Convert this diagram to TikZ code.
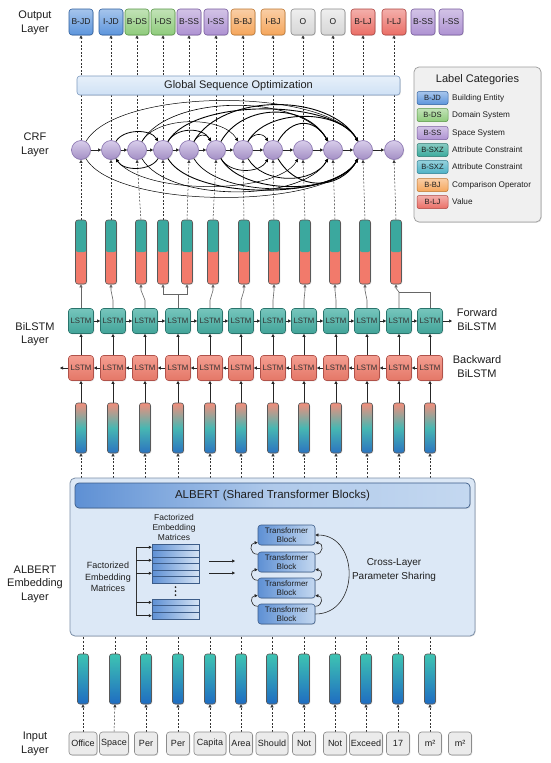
\documentclass[tikz,border=0pt]{standalone}
\usepackage{fontspec}
\setmainfont{Liberation Sans}
\usetikzlibrary{arrows.meta,calc,shadows}
\pgfdeclarelayer{bg}
\pgfsetlayers{bg,main}
\definecolor{txt}{HTML}{1E1E1E}
\definecolor{blueF}{HTML}{5D95DC}
\definecolor{blueB}{HTML}{2E5E9C}
\definecolor{greenF}{HTML}{8FCB7C}
\definecolor{greenB}{HTML}{569644}
\definecolor{purpF}{HTML}{AE92D2}
\definecolor{purpB}{HTML}{775A9E}
\definecolor{orgF}{HTML}{F5A65C}
\definecolor{orgB}{HTML}{BD7630}
\definecolor{grayF}{HTML}{D6D6D6}
\definecolor{grayB}{HTML}{8A8A8A}
\definecolor{redF}{HTML}{EA6E66}
\definecolor{redB}{HTML}{AE4440}
\definecolor{tealF}{HTML}{3AAA9C}
\definecolor{tealB}{HTML}{27756C}
\definecolor{tealbF}{HTML}{4EB2C6}
\definecolor{tealbB}{HTML}{2A7C90}
\definecolor{crfF}{HTML}{B29CD6}
\definecolor{crfB}{HTML}{8670AE}
\definecolor{lstmF}{HTML}{48B2A6}
\definecolor{lstmB}{HTML}{2A746C}
\definecolor{lstmR}{HTML}{F07D6C}
\definecolor{lstmRB}{HTML}{B0524A}
\definecolor{vecT}{HTML}{3BA89E}
\definecolor{vecR}{HTML}{F27A6B}
\definecolor{salm}{HTML}{F28E7C}
\definecolor{midT}{HTML}{47B7B2}
\definecolor{blueV}{HTML}{2C74C0}
\definecolor{embT}{HTML}{3EC4B2}
\definecolor{embB}{HTML}{1F6CC2}
\definecolor{albF}{HTML}{DCE8F6}
\definecolor{albB}{HTML}{7C8FA8}
\definecolor{hdrL}{HTML}{5E90D4}
\definecolor{hdrR}{HTML}{C4D8F0}
\definecolor{blkB}{HTML}{3C5C88}
\definecolor{inF}{HTML}{EBEBEB}
\definecolor{inB}{HTML}{8C8C8C}
\definecolor{legF}{HTML}{F0F0F0}
\definecolor{legB}{HTML}{9C9C9C}
\definecolor{globF}{HTML}{CFE1F5}
\definecolor{globB}{HTML}{7E9BC0}
\tikzset{
  shd/.style={drop shadow={opacity=0.22,shadow xshift=0.8pt,shadow yshift=-0.8pt}},
  arr/.style={-{Triangle[length=3pt,width=3pt]},line width=0.6pt,draw=black!85},
  arrg/.style={-{Triangle[length=3pt,width=3pt]},line width=0.6pt,draw=black!60},
  lng/.style={line width=0.6pt,draw=black!60},
  dsh/.style={-{Triangle[length=3pt,width=3pt]},line width=0.5pt,draw=black!80,dash pattern=on 2pt off 1.6pt},
  dshn/.style={line width=0.5pt,draw=black!80,dash pattern=on 2pt off 1.6pt},
  crfarc/.style={-{Triangle[length=3.5pt,width=3.2pt]},draw=black},
  fB/.style={top color=blueF!55!white,bottom color=blueF,draw=blueB},
  fG/.style={top color=greenF!55!white,bottom color=greenF,draw=greenB},
  fP/.style={top color=purpF!55!white,bottom color=purpF,draw=purpB},
  fO/.style={top color=orgF!55!white,bottom color=orgF,draw=orgB},
  fY/.style={top color=grayF!40!white,bottom color=grayF,draw=grayB},
  fR/.style={top color=redF!55!white,bottom color=redF,draw=redB},
  fT/.style={top color=tealF!60!white,bottom color=tealF,draw=tealB},
  fTb/.style={top color=tealbF!60!white,bottom color=tealbF,draw=tealbB},
  labbox/.style={rounded corners=3pt,minimum width=24pt,minimum height=26pt,inner sep=0pt,
    font=\fontsize{8.5}{9}\selectfont,text=txt,line width=0.6pt,shd},
  swbox/.style={rounded corners=2pt,minimum width=31pt,minimum height=13pt,inner sep=0pt,
    font=\fontsize{7.6}{8}\selectfont,text=txt,line width=0.5pt},
  leftlab/.style={align=center,font=\fontsize{11}{13.5}\selectfont,text=txt},
  crf/.style={circle,minimum size=19pt,inner sep=0pt,top color=crfF!50!white,bottom color=crfF!92!black,
    draw=crfB,line width=0.6pt,shd},
  lstmf/.style={rounded corners=3pt,minimum width=25pt,minimum height=25pt,inner sep=0pt,
    font=\fontsize{7.8}{9}\selectfont,text=black!80,top color=lstmF!75!white,bottom color=lstmF!92!black,
    draw=lstmB,line width=0.6pt,shd},
  lstmb/.style={lstmf,top color=lstmR!75!white,bottom color=lstmR!95!black,draw=lstmRB},
  uvec/.style={rounded corners=2.5pt,minimum width=11pt,minimum height=64pt,inner sep=0pt,
    draw=black!65,line width=0.6pt,fill=vecR,shd,
    path picture={\fill[vecT] (path picture bounding box.north west) rectangle (path picture bounding box.east);}},
  lvec/.style={rounded corners=2.5pt,minimum width=11pt,minimum height=50pt,inner sep=0pt,
    draw=black!65,line width=0.6pt,top color=salm,bottom color=blueV,middle color=midT,shd},
  evec/.style={rounded corners=2.5pt,minimum width=11pt,minimum height=50pt,inner sep=0pt,
    draw=black!65,line width=0.6pt,top color=embT,bottom color=embB,shd},
  inbox/.style={rounded corners=3pt,minimum height=23pt,inner sep=0pt,fill=inF,draw=inB,
    line width=0.6pt,font=\fontsize{9}{10}\selectfont,text=txt,shd},
  tblock/.style={rounded corners=3pt,minimum width=57pt,minimum height=20pt,inner sep=0pt,
    left color=hdrL,right color=hdrR,draw=blkB,line width=0.6pt,align=center,
    font=\fontsize{8}{9}\selectfont,text=txt,shd},
  mrow/.style={minimum width=47pt,minimum height=6.5pt,inner sep=0pt,left color=hdrL,right color=hdrR!70!white,
    draw=blkB,line width=0.5pt},
  dotn/.style={circle,fill=black!85,inner sep=0pt,minimum size=2pt},
}
\begin{document}
\begin{tikzpicture}[x=1pt,y=-1pt]
\useasboundingbox (0,0) rectangle (550,763);
\begin{pgfonlayer}{bg}
\fill[white] (0,0) rectangle (550,763);
\end{pgfonlayer}

% left column labels
\node[leftlab] (lo) at (35,23) {Output\\Layer};
\node[leftlab] (lc) at (35,145) {CRF\\Layer};
\node[leftlab] (lb) at (35,334) {BiLSTM\\Layer};
\node[leftlab] (la) at (35,584) {ALBERT\\Embedding\\Layer};
\node[leftlab] (li) at (35,744) {Input\\Layer};

% output labels
\foreach \x/\t/\s [count=\i] in {81/B-JD/fB,111/I-JD/fB,137/B-DS/fG,163/I-DS/fG,189/B-SS/fP,216/I-SS/fP,
  243/B-BJ/fO,273/I-BJ/fO,303/O/fY,333/O/fY,363/B-LJ/fR,394/I-LJ/fR,423/B-SS/fP,451/I-SS/fP}
  \node[labbox,style=\s] (o\i) at (\x,22) {\t};

% global bar
\node[rounded corners=3pt,minimum width=323pt,minimum height=19pt,inner sep=0pt,
  top color=globF!50!white,bottom color=globF,draw=globB,line width=0.6pt,shd,
  font=\fontsize{11}{12}\selectfont,text=txt] (gso) at (238.5,85.5) {Global Sequence Optimization};

% legend
\node[rounded corners=5pt,minimum width=127pt,minimum height=155pt,inner sep=0pt,fill=legF,
  draw=legB,line width=0.7pt,shd] (leg) at (477.5,144.5) {};
\node[font=\fontsize{11}{12}\selectfont,text=txt] (legt) at (477.5,80) {Label Categories};
\foreach \y/\t/\s/\d [count=\i] in {98/B-JD/fB/Building Entity,115/B-DS/fG/Domain System,
  133/B-SS/fP/Space System,150/B-SXZ/fT/Attribute Constraint,167/B-SXZ/fTb/Attribute Constraint,
  185/B-BJ/fO/Comparison Operator,202/B-LJ/fR/Value}
{\node[swbox,style=\s] (s\i) at (432.5,\y) {\t};
 \node[anchor=west,inner sep=0pt,font=\fontsize{8.2}{9}\selectfont,text=txt] (d\i) at (452,\y) {\d};}

% CRF nodes
\foreach \x [count=\i] in {81,111,137,163,189,216,243,273,303,333,363,394}
  \node[crf] (c\i) at (\x,150) {};
\foreach \i [count=\j from 2] in {1,...,11} \draw[arr] (c\i) -- (c\j);
% arcs above
\foreach \a/\b/\L/\w in {1/11/0.59/0.5,3/10/0.76/0.6,4/11/0.67/0.9,2/4/0.9/0.8,4/6/1.0/0.8,
  5/6/1.4/0.6,6/10/1.07/0.9,7/8/1.3/0.6,8/10/1.4/0.9,5/11/0.88/0.9,7/11/0.89/0.9,3/7/0.8/0.5}
  \draw[crfarc,line width=\w pt] (c\a) to[out=60,in=120,looseness=\L] (c\b);
% arcs below
\foreach \a/\b/\L/\w in {1/11/0.56/0.5,3/10/0.7/0.6,4/11/0.65/0.9,6/11/0.8/0.9,6/8/0.97/0.7,
  7/10/0.96/0.8,8/11/1.2/0.9,2/9/0.6/0.5,5/11/0.72/0.7}
  \draw[crfarc,line width=\w pt] (c\a) to[out=-60,in=-120,looseness=\L] (c\b);
\draw[crfarc,line width=0.8pt] (c4) to[out=-120,in=-60,looseness=0.9] (c2);

% upper vectors
\foreach \x [count=\i] in {81,111,141,163,187,213,244,274,305,335,365,396}
  \node[uvec] (u\i) at (\x,252) {};

% LSTM rows and lower vectors
\foreach \x [count=\i] in {81,113,145,178,210,241,273,304,336,367,399,430}
{\node[lstmf] (f\i) at (\x,321) {LSTM};
 \node[lstmb] (b\i) at (\x,368) {LSTM};
 \node[lvec] (l\i) at (\x,428) {};}
\node[align=center,font=\fontsize{11}{14}\selectfont,text=txt] (fwl) at (477,320) {Forward\\BiLSTM};
\node[align=center,font=\fontsize{11}{14}\selectfont,text=txt] (bwl) at (477,367) {Backward\\BiLSTM};
\coordinate (fout) at (452,321);
\coordinate (bout) at (60,368);

% ALBERT block
\node[rounded corners=5pt,minimum width=405pt,minimum height=158pt,inner sep=0pt,fill=albF,
  draw=albB,line width=0.8pt,shd] (alb) at (272.5,557) {};
\node[rounded corners=4pt,minimum width=395pt,minimum height=25pt,inner sep=0pt,
  left color=hdrL,right color=hdrR,middle color=hdrR!80!hdrL,draw=blkB,line width=0.7pt,shd,
  font=\fontsize{11.5}{12}\selectfont,text=txt] (hdr) at (272.5,495.5) {ALBERT (Shared Transformer Blocks)};
\node[align=center,font=\fontsize{8.5}{10}\selectfont,text=txt] (fem1) at (174,527) {Factorized\\Embedding\\Matrices};
\node[align=center,font=\fontsize{9}{11.5}\selectfont,text=txt] (fem2) at (108,577) {Factorized\\Embedding\\Matrices};
\foreach \y [count=\i] in {547.25,553.75,560.25,566.75,573.25,579.75}
  \node[mrow] (m\i) at (175.5,\y) {};
\foreach \y [count=\i] in {602.33,609,615.67}
  \node[mrow,minimum height=6.67pt] (n\i) at (175.5,\y) {};
\foreach \y [count=\i] in {587,591,595}
  \node[dotn] (dt\i) at (175.5,\y) {};
\coordinate (bt) at (136,547.25);
\coordinate (bb) at (136,615.67);
\draw[lng,draw=black!80] (bt) -- (bb);
\foreach \r in {m1,m3,m5,n1,n3} \draw[arr] (\r.west -| bt) -- (\r.west);
\coordinate (ma1) at (209,561); \coordinate (mb1) at (235,561);
\coordinate (ma2) at (209,573); \coordinate (mb2) at (235,573);
\draw[arr] (ma1) -- (mb1);
\draw[arr] (ma2) -- (mb2);
\foreach \y [count=\i] in {535,562,588,614}
  \node[tblock] (t\i) at (286.5,\y) {Transformer\\Block};
\foreach \i [count=\j from 2] in {1,2,3}
{\draw[arr] (t\j.165) to[out=180,in=180,looseness=1.9] (t\i.195);
 \draw[arr] (t\j.15) to[out=0,in=0,looseness=1.9] (t\i.-15);}
\draw[arr] (t4.east) to[out=0,in=0,looseness=1.45] (t1.east);
\node[align=center,font=\fontsize{10}{14}\selectfont,text=txt] (cls) at (394,570) {Cross-Layer\\Parameter Sharing};

% embedding vectors and inputs
\foreach \x [count=\i] in {83,115,146,178,210,241,272,304,335,366,398,430}
  \node[evec] (e\i) at (\x,679) {};
\foreach \x/\w/\t [count=\i] in {83/28/Office,114/29/Space,146/23/Per,178/23/Per,210/32/Capita,
  241/23/Area,272/32/Should,304/23/Not,335/23/Not,366/33/Exceed,398/23/17,430/23/m²,460/23/m²}
  \node[inbox,minimum width=\w pt] (w\i) at (\x,743.5) {\t};

% connectors
\begin{pgfonlayer}{bg}
\foreach \i in {1,...,12}
{\draw[dsh] (c\i.north) -- (o\i.south);
 \draw[dsh] (u\i.north) -- (c\i.south);
 \draw[dsh] (l\i.south |- alb.north) -- (l\i.south);
 \draw[dshn] (e\i.north) -- (e\i.north |- alb.south);
 \draw[dsh] (w\i.north) -- (e\i.south);
 \draw[arr] (l\i.north) -- (b\i.south);
 \draw[arr] (b\i.north) -- (f\i.south);}
\end{pgfonlayer}
\foreach \i [count=\j from 2] in {1,...,11}
{\draw[arr] (f\i) -- (f\j);
 \draw[arr] (b\j) -- (b\i);}
\draw[arr] (f12) -- (fout);
\draw[arr] (b1) -- (bout);

% forward LSTM to upper vectors
\draw[arrg] (f1.north) -- (u1.south);
\draw[arrg] (f2.north) -- ++(0,-8) -- ($(u2.south)+(0,6)$) -- (u2.south);
\draw[arrg] (f3.north) -- ++(0,-8) -- ($(u3.south)+(0,6)$) -- (u3.south);
\coordinate (j4) at (178,294);
\draw[lng] (f4.north) -- (j4);
\draw[arrg] (j4) -| (u4.south);
\draw[arrg] (j4) -| (u5.south);
\foreach \i [count=\k from 6] in {5,...,10}
  \draw[arrg] (f\i.north) -- ++(0,-8) -- ($(u\k.south)+(0,6)$) -- (u\k.south);
\coordinate (j11) at (399,292);
\draw[arrg] (f11.north) -- (j11) -- ($(u12.south)+(0,4)$) -- (u12.south);
\draw[lng] (f12.north) |- (j11);
\end{tikzpicture}
\end{document}
